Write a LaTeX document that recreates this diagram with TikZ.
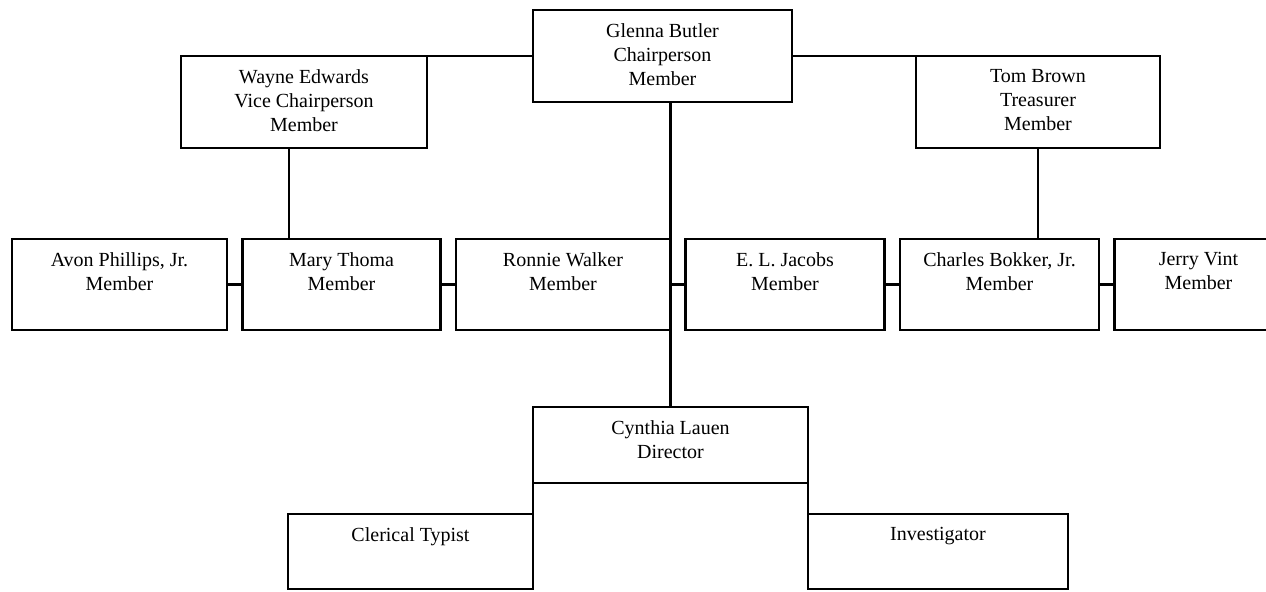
\documentclass[tikz,border=0pt]{standalone}
\usepackage{fontspec}
\setmainfont{Liberation Serif}
\usetikzlibrary{positioning}
\tikzset{
	post/.style={rectangle, draw=black, line width=1.1pt, inner sep=0pt, outer sep=0pt, minimum height=45.5pt},
	officer/.style={post, minimum height=46pt},
	staff/.style={post, minimum height=37.5pt},
	title/.style={anchor=north, inner sep=0pt, yshift=-6.5pt, align=center, font=\fontsize{10pt}{12pt}\selectfont},
	link/.style={draw=black, line width=1.1pt},
}

\begin{document}
\begin{tikzpicture}[x=0.5pt, y=0.5pt, node distance=7.75pt]
		\useasboundingbox (0,0) rectangle (1266,591);
		% officers
		\node[officer, minimum width=129.5pt, label={[title, name=glenna-t]north:{Glenna Butler\\Chairperson\\Member}}] (glenna) at (662.5,535) {};
		\node[officer, minimum width=123pt, label={[title, name=wayne-t]north:{Wayne Edwards\\Vice Chairperson\\Member}}] (wayne) at (304,489) {};
		\node[officer, minimum width=122pt, label={[title, name=tom-t]north:{Tom Brown\\Treasurer\\Member}}] (tom) at (1038,489) {};
		% members
		\node[post, minimum width=107.5pt, label={[title, name=avon-t]north:{Avon Phillips, Jr.\\Member}}] (avon) at (119.5,306.5) {};
		\node[post, minimum width=99pt, right=of avon, label={[title, name=mary-t]north:{Mary Thoma\\Member}}] (mary) {};
		\node[post, minimum width=107pt, right=of mary, label={[title, name=ronnie-t]north:{Ronnie Walker\\Member}}] (ronnie) {};
		\node[post, minimum width=99.5pt, right=of ronnie, label={[title, name=jacobs-t]north:{E. L. Jacobs\\Member}}] (jacobs) {};
		\node[post, minimum width=99.5pt, right=of jacobs, label={[title, name=charles-t]north:{Charles Bokker, Jr.\\Member}}] (charles) {};
		\node[post, minimum width=84pt, right=of charles, label={[title, name=jerry-t]north:{Jerry Vint\\Member}}] (jerry) {};
		% staff
		\node[post, minimum width=137.5pt, minimum height=38pt, label={[title, name=cynthia-t]north:{Cynthia Lauen\\Director}}] (cynthia) at (670.5,146) {};
		\node[staff, minimum width=122.5pt, label={[title, name=clerical-t]north:{Clerical Typist}}] (clerical) at (410.5,39.5) {};
		\node[staff, minimum width=130pt, label={[title, name=investigator-t]north:{Investigator}}] (investigator) at (938,39.5) {};
		% connectors
		\draw[link] (glenna.west) -- (wayne.north east);
		\draw[link] (glenna.east) -- (tom.north west);
		\draw[link] ([xshift=-7.5pt]wayne.south) -- ([xshift=-7.5pt]wayne.south |- mary.north);
		\draw[link] (tom.south) -- (tom.south |- charles.north);
		\draw[link] (cynthia.north |- glenna.south) -- (cynthia.north);
		\draw[link] (avon.east) -- (mary.west);
		\draw[link] (mary.east) -- (ronnie.west);
		\draw[link] (ronnie.east) -- (jacobs.west);
		\draw[link] (jacobs.east) -- (charles.west);
		\draw[link] (charles.east) -- (jerry.west);
		\draw[link] (cynthia.south west) -- (clerical.south east);
		\draw[link] (cynthia.south east) -- (investigator.south west);
	\end{tikzpicture}
\end{document}
